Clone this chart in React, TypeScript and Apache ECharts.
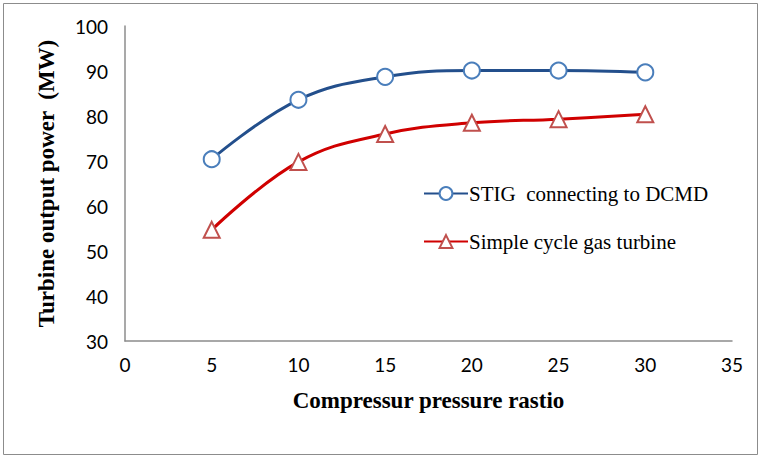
import React, { useEffect, useRef } from "react";
import * as echarts from "echarts";

const pressureRatio = [5, 10, 15, 20, 25, 30];
const stigPower = [70.4, 83.6, 88.7, 90.1, 90.1, 89.7];
const simplePower = [54.7, 69.8, 76.0, 78.5, 79.3, 80.4];
const seriesNames = ["STIG  connecting to DCMD", "Simple cycle gas turbine"];

export default function App() {
  const ref = useRef<HTMLDivElement>(null);
  useEffect(() => {
    if (!ref.current) return;
    const chart = echarts.init(ref.current, undefined, { renderer: "svg" });
    const tickFont = { fontFamily: "Lato", fontSize: 19, color: "#000" };
    chart.setOption({
      animation: false,
      backgroundColor: "#fff",
      grid: { left: 125, right: 30, top: 26, bottom: 118 },
      graphic: [
        {
          type: "rect",
          shape: { x: 3.5, y: 3.5, width: 754, height: 451 },
          style: { fill: "none", stroke: "#8c8c8c", lineWidth: 1 },
          silent: true,
        },
      ],
      legend: {
        orient: "vertical",
        left: 418,
        top: 178,
        itemGap: 27,
        itemWidth: 44,
        itemHeight: 16,
        textStyle: { fontFamily: "Liberation Serif", fontSize: 21, color: "#000", padding: [0, 0, 0, -4] },
        data: seriesNames,
      },
      xAxis: {
        type: "value",
        min: 0,
        max: 35,
        interval: 5,
        name: "Compressur pressure rastio",
        nameLocation: "middle",
        nameGap: 48,
        nameTextStyle: { fontFamily: "Liberation Serif", fontWeight: "bold", fontSize: 23, color: "#000" },
        axisLine: { show: true, lineStyle: { color: "#8c8c8c", width: 1.5 } },
        axisTick: { show: false },
        axisLabel: { ...tickFont, margin: 14 },
        splitLine: { show: false },
      },
      yAxis: {
        type: "value",
        min: 30,
        max: 100,
        interval: 10,
        name: "Turbine output power  (MW)",
        nameLocation: "middle",
        nameGap: 67,
        nameTextStyle: { fontFamily: "Liberation Serif", fontWeight: "bold", fontSize: 23, color: "#000" },
        axisLine: { show: true, lineStyle: { color: "#8c8c8c", width: 1.5 } },
        axisTick: { show: false },
        axisLabel: { ...tickFont, margin: 17 },
        splitLine: { show: false },
      },
      series: [
        {
          name: seriesNames[0],
          type: "line",
          smooth: 0.4,
          data: pressureRatio.map((x, i) => [x, stigPower[i]]),
          symbol: "circle",
          symbolSize: 16,
          showAllSymbol: true,
          lineStyle: { color: "#234f8c", width: 3 },
          itemStyle: { color: "#ffffff", borderColor: "#4a7ebb", borderWidth: 2 },
          z: 3,
        },
        {
          name: seriesNames[1],
          type: "line",
          smooth: 0.4,
          data: pressureRatio.map((x, i) => [x, simplePower[i]]),
          symbol: "triangle",
          symbolSize: 16,
          lineStyle: { color: "#d00000", width: 3 },
          itemStyle: { color: "#ffffff", borderColor: "#c0504d", borderWidth: 2 },
          z: 2,
        },
      ],
    });
    return () => chart.dispose();
  }, []);
  return (
    <div
      ref={ref}
      style={{ position: "fixed", left: 0, top: 0, width: 762, height: 459 }}
    />
  );
}
